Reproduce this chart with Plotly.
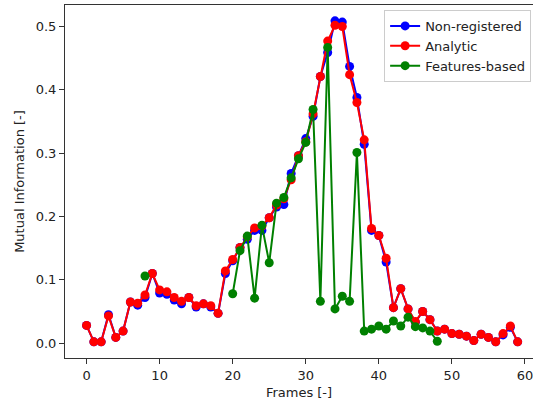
import plotly.graph_objects as go

frames = list(range(60))

non_registered = [
    0.028, 0.002, 0.002, 0.045, 0.009, 0.019, 0.065, 0.060, 0.072, 0.110,
    0.079, 0.077, 0.068, 0.062, 0.072, 0.057, 0.062, 0.057, 0.047, 0.110,
    0.130, 0.151, 0.164, 0.178, 0.178, 0.198, 0.215, 0.219, 0.268, 0.296,
    0.323, 0.358, 0.421, 0.459, 0.509, 0.507, 0.437, 0.388, 0.314, 0.178,
    0.170, 0.128, 0.056, 0.086, 0.054, 0.033, 0.050, 0.037, 0.019, 0.022,
    0.015, 0.014, 0.011, 0.004, 0.014, 0.009, 0.002, 0.013, 0.025, 0.002,
]

analytic = [
    0.028, 0.002, 0.002, 0.043, 0.009, 0.019, 0.065, 0.063, 0.076, 0.110,
    0.084, 0.081, 0.072, 0.066, 0.072, 0.059, 0.062, 0.059, 0.047, 0.114,
    0.132, 0.151, 0.168, 0.182, 0.185, 0.198, 0.218, 0.228, 0.258, 0.296,
    0.318, 0.362, 0.421, 0.477, 0.502, 0.500, 0.424, 0.380, 0.321, 0.181,
    0.170, 0.134, 0.056, 0.086, 0.054, 0.034, 0.050, 0.037, 0.019, 0.022,
    0.015, 0.014, 0.011, 0.004, 0.014, 0.009, 0.002, 0.015, 0.027, 0.002,
]

features_based = [
    None, None, None, None, None, None, None, None, 0.106, None,
    None, None, None, None, None, None, None, None, None, None,
    0.078, 0.146, 0.169, 0.071, 0.186, 0.127, 0.221, 0.230, 0.261, 0.291,
    0.317, 0.369, 0.066, 0.467, 0.054, 0.074, 0.066, 0.301, 0.019, 0.022,
    0.027, 0.022, 0.035, 0.027, 0.041, 0.026, 0.024, 0.019, 0.003, None,
    None, None, None, None, None, None, None, None, None, None,
]

x_ticks = [0, 10, 20, 30, 40, 50, 60]
y_ticks = [0.0, 0.1, 0.2, 0.3, 0.4, 0.5]

series = [
    ("Non-registered", non_registered, "#0000ff"),
    ("Analytic", analytic, "#ff0000"),
    ("Features-based", features_based, "#008000"),
]

fig = go.Figure()
for name, values, color in series:
    fig.add_trace(go.Scatter(
        x=frames, y=values, name=name, mode="lines+markers",
        line=dict(color=color, width=2),
        marker=dict(color=color, size=9),
        connectgaps=False,
    ))

font = dict(family="DejaVu Sans", size=13, color="#222222")

fig.update_layout(
    width=533, height=402,
    margin=dict(l=65, r=0, t=5, b=44),
    paper_bgcolor="white", plot_bgcolor="white",
    font=font,
    showlegend=True,
    legend=dict(
        x=0.996, y=0.986, xanchor="right", yanchor="top",
        bgcolor="rgba(255,255,255,0.8)", bordercolor="#cccccc", borderwidth=1,
        font=dict(family="DejaVu Sans", size=13, color="#222222"),
        tracegroupgap=0, itemwidth=30,
    ),
)

fig.update_xaxes(
    range=[-2.95, 61.1], tickvals=x_ticks, ticktext=[str(v) for v in x_ticks],
    showgrid=False, zeroline=False,
    showline=True, linecolor="#333333", linewidth=1, mirror=True,
    ticks="outside", ticklen=5, tickcolor="#333333",
    ticklabeloverflow="allow",
    title=dict(text="Frames [-]", font=font, standoff=6),
)
fig.update_yaxes(
    range=[-0.0235, 0.534], tickvals=y_ticks, ticktext=[f"{v:.1f}" for v in y_ticks],
    showgrid=False, zeroline=False,
    showline=True, linecolor="#333333", linewidth=1,
    ticks="outside", ticklen=5, tickcolor="#333333",
    title=dict(text="Mutual Information [-]", font=font, standoff=8),
)

fig.write_html("out.html")
